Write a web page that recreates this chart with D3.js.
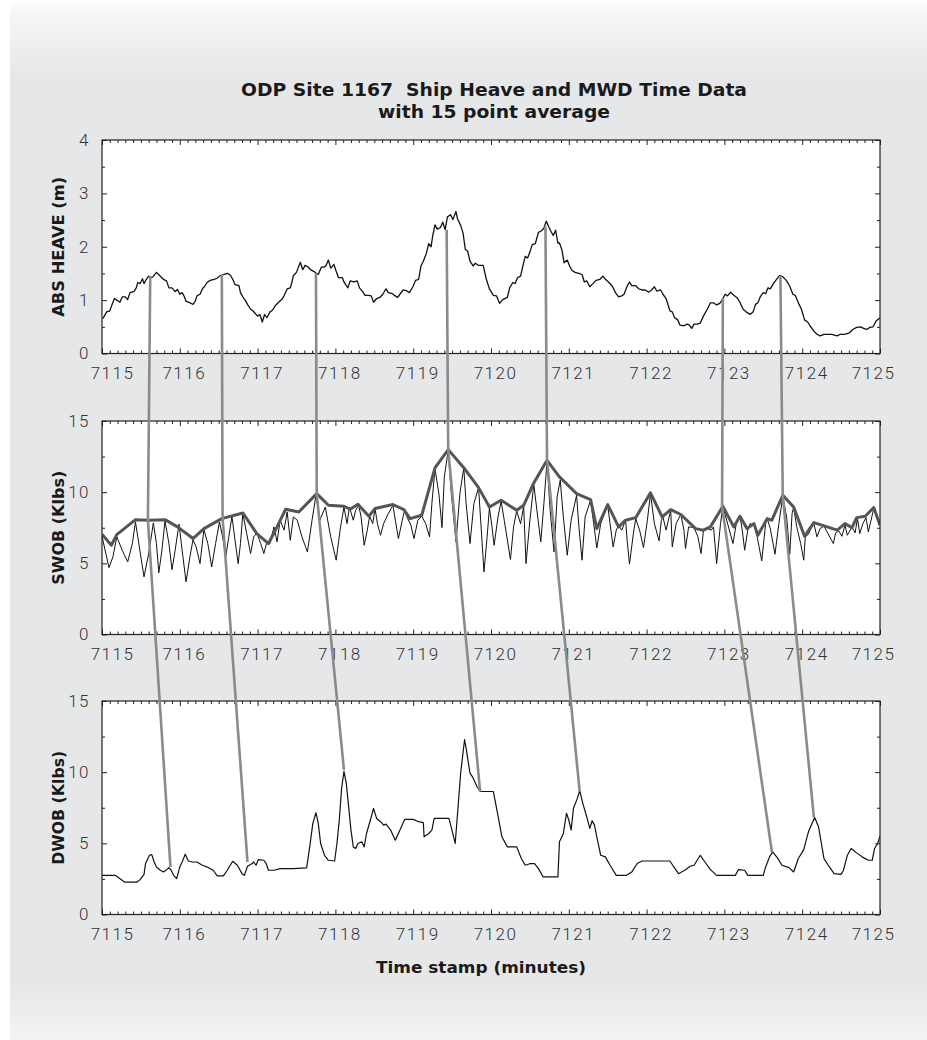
<!DOCTYPE html>
<html>
<head>
<meta charset="utf-8">
<script src="https://cdn.jsdelivr.net/npm/d3@7"></script>
<style>
  html, body { margin: 0; padding: 0; background: #fff; }
  svg { display: block; }
</style>
</head>
<body>
<svg id="chart" width="927" height="1040"></svg>
<script>
// ---------- data: time stamps (minutes) and values ----------
const timeTicks = [7115, 7116, 7117, 7118, 7119, 7120, 7121, 7122, 7123, 7124, 7125];

// ship heave, absolute (m)
const heaveTime = [7115.01,7115.06,7115.10,7115.13,7115.16,7115.19,7115.23,7115.26,7115.30,7115.33,7115.36,7115.41,7115.44,7115.46,7115.49,7115.52,7115.54,7115.57,7115.60,7115.62,7115.65,7115.70,7115.74,7115.79,7115.83,7115.86,7115.90,7115.94,7115.97,7116.00,7116.03,7116.06,7116.08,7116.13,7116.17,7116.20,7116.22,7116.26,7116.29,7116.32,7116.35,7116.39,7116.44,7116.48,7116.51,7116.56,7116.61,7116.65,7116.68,7116.71,7116.76,7116.78,7116.81,7116.84,7116.87,7116.91,7116.94,7116.97,7117.00,7117.03,7117.06,7117.09,7117.12,7117.16,7117.19,7117.23,7117.27,7117.31,7117.34,7117.38,7117.42,7117.44,7117.46,7117.50,7117.52,7117.55,7117.58,7117.61,7117.65,7117.68,7117.72,7117.76,7117.78,7117.82,7117.86,7117.88,7117.91,7117.94,7117.98,7118.01,7118.04,7118.09,7118.11,7118.16,7118.19,7118.24,7118.28,7118.31,7118.35,7118.38,7118.43,7118.46,7118.49,7118.53,7118.57,7118.61,7118.65,7118.68,7118.73,7118.77,7118.80,7118.83,7118.87,7118.91,7118.95,7119.00,7119.03,7119.07,7119.10,7119.13,7119.17,7119.20,7119.23,7119.25,7119.28,7119.31,7119.35,7119.38,7119.41,7119.44,7119.48,7119.51,7119.55,7119.57,7119.61,7119.64,7119.67,7119.70,7119.73,7119.77,7119.80,7119.84,7119.90,7119.94,7119.98,7120.03,7120.07,7120.11,7120.15,7120.21,7120.24,7120.28,7120.31,7120.34,7120.38,7120.41,7120.44,7120.47,7120.50,7120.53,7120.57,7120.61,7120.65,7120.68,7120.71,7120.74,7120.77,7120.80,7120.83,7120.86,7120.88,7120.91,7120.94,7120.98,7121.01,7121.04,7121.08,7121.13,7121.17,7121.20,7121.23,7121.27,7121.31,7121.35,7121.40,7121.44,7121.47,7121.51,7121.56,7121.60,7121.64,7121.68,7121.71,7121.75,7121.78,7121.81,7121.86,7121.90,7121.94,7121.98,7122.03,7122.07,7122.10,7122.13,7122.18,7122.21,7122.25,7122.30,7122.33,7122.36,7122.40,7122.43,7122.48,7122.52,7122.55,7122.58,7122.61,7122.65,7122.69,7122.73,7122.78,7122.82,7122.86,7122.90,7122.94,7122.97,7123.01,7123.04,7123.08,7123.12,7123.16,7123.20,7123.24,7123.28,7123.33,7123.37,7123.40,7123.43,7123.46,7123.50,7123.53,7123.56,7123.59,7123.63,7123.67,7123.71,7123.75,7123.80,7123.84,7123.88,7123.91,7123.96,7123.99,7124.03,7124.07,7124.10,7124.15,7124.19,7124.23,7124.28,7124.33,7124.38,7124.45,7124.49,7124.54,7124.60,7124.65,7124.70,7124.75,7124.79,7124.83,7124.87,7124.91,7124.95,7125.00];
const heaveValue = [0.65,0.78,0.80,0.92,1.03,1.00,0.96,1.06,1.06,1.01,1.14,1.16,1.23,1.33,1.31,1.40,1.31,1.39,1.45,1.42,1.43,1.52,1.46,1.39,1.36,1.23,1.23,1.16,1.20,1.11,1.14,1.06,0.98,0.95,0.92,0.98,1.08,1.11,1.21,1.26,1.33,1.37,1.39,1.41,1.45,1.48,1.50,1.47,1.39,1.29,1.27,1.14,1.06,1.00,0.92,0.83,0.80,0.75,0.70,0.73,0.59,0.73,0.67,0.78,0.81,0.90,0.96,1.01,1.08,1.21,1.23,1.33,1.46,1.52,1.60,1.71,1.57,1.65,1.62,1.57,1.54,1.50,1.48,1.62,1.62,1.65,1.75,1.60,1.67,1.54,1.42,1.42,1.34,1.23,1.36,1.34,1.36,1.23,1.16,1.09,1.09,1.08,0.96,1.03,1.05,1.11,1.21,1.14,1.12,1.08,1.05,1.11,1.19,1.18,1.14,1.26,1.37,1.39,1.64,1.73,1.88,2.06,2.00,2.20,2.41,2.33,2.36,2.46,2.32,2.56,2.60,2.51,2.66,2.52,2.40,2.26,1.95,1.92,1.73,1.64,1.69,1.65,1.65,1.39,1.21,1.09,1.08,0.94,1.01,1.05,1.23,1.33,1.31,1.42,1.45,1.64,1.82,1.79,1.90,2.04,2.06,2.27,2.30,2.35,2.48,2.38,2.29,2.21,2.31,2.07,2.07,1.95,1.70,1.75,1.64,1.56,1.52,1.50,1.48,1.34,1.36,1.25,1.31,1.37,1.39,1.45,1.39,1.34,1.26,1.14,1.06,1.08,1.11,1.26,1.34,1.27,1.27,1.21,1.19,1.19,1.15,1.20,1.25,1.17,1.19,1.11,1.03,0.80,0.78,0.67,0.63,0.53,0.52,0.55,0.53,0.47,0.55,0.55,0.57,0.70,0.83,0.95,0.95,0.91,0.94,1.00,1.11,1.08,1.15,1.09,1.05,0.96,0.83,0.78,0.73,0.78,0.92,0.95,1.06,1.14,1.12,1.23,1.21,1.31,1.39,1.46,1.44,1.36,1.26,1.11,1.09,0.92,0.83,0.63,0.59,0.52,0.42,0.36,0.33,0.36,0.36,0.36,0.33,0.36,0.36,0.38,0.45,0.49,0.50,0.47,0.45,0.49,0.50,0.61,0.67];

// surface weight on bit, raw trace (Klbs)
const swobTime = [7115.00,7115.09,7115.14,7115.19,7115.26,7115.33,7115.39,7115.43,7115.48,7115.54,7115.60,7115.66,7115.70,7115.73,7115.77,7115.81,7115.86,7115.90,7115.94,7115.99,7116.03,7116.08,7116.13,7116.17,7116.21,7116.26,7116.31,7116.36,7116.41,7116.46,7116.51,7116.55,7116.59,7116.63,7116.67,7116.71,7116.75,7116.78,7116.81,7116.86,7116.91,7116.95,7116.99,7117.04,7117.08,7117.12,7117.16,7117.21,7117.25,7117.29,7117.34,7117.38,7117.42,7117.46,7117.51,7117.57,7117.64,7117.70,7117.75,7117.80,7117.87,7117.94,7118.01,7118.06,7118.11,7118.15,7118.18,7118.23,7118.26,7118.30,7118.33,7118.37,7118.41,7118.44,7118.48,7118.51,7118.54,7118.58,7118.62,7118.68,7118.74,7118.77,7118.81,7118.86,7118.89,7118.92,7118.97,7119.01,7119.06,7119.11,7119.16,7119.21,7119.24,7119.28,7119.33,7119.37,7119.40,7119.45,7119.49,7119.55,7119.60,7119.65,7119.68,7119.73,7119.78,7119.84,7119.91,7119.95,7119.98,7120.01,7120.04,7120.09,7120.13,7120.17,7120.25,7120.29,7120.33,7120.38,7120.42,7120.45,7120.50,7120.55,7120.59,7120.64,7120.68,7120.72,7120.76,7120.81,7120.85,7120.89,7120.93,7120.98,7121.03,7121.10,7121.13,7121.17,7121.21,7121.28,7121.32,7121.36,7121.41,7121.50,7121.53,7121.57,7121.61,7121.64,7121.68,7121.73,7121.75,7121.78,7121.83,7121.86,7121.91,7121.96,7122.01,7122.05,7122.10,7122.16,7122.19,7122.21,7122.25,7122.31,7122.33,7122.38,7122.44,7122.48,7122.50,7122.54,7122.61,7122.66,7122.70,7122.73,7122.79,7122.83,7122.86,7122.90,7122.95,7122.98,7123.03,7123.11,7123.16,7123.20,7123.23,7123.26,7123.30,7123.33,7123.38,7123.42,7123.48,7123.53,7123.55,7123.59,7123.65,7123.70,7123.75,7123.80,7123.84,7123.87,7123.89,7123.93,7123.98,7124.02,7124.04,7124.08,7124.13,7124.15,7124.19,7124.23,7124.28,7124.32,7124.40,7124.43,7124.47,7124.51,7124.55,7124.58,7124.64,7124.68,7124.71,7124.74,7124.78,7124.82,7124.85,7124.92,7124.96,7125.00];
const swobValue = [6.90,4.70,5.45,6.86,5.92,5.10,6.39,7.91,6.15,4.05,5.69,7.84,6.39,4.33,5.92,7.98,6.39,4.56,5.92,7.75,5.92,3.70,5.45,6.67,6.15,4.98,7.37,6.39,4.75,6.39,7.91,6.86,5.45,6.86,8.31,6.62,4.98,6.39,8.50,7.09,5.69,6.86,7.14,6.39,5.69,6.51,6.39,7.56,6.51,8.03,7.33,8.61,6.62,8.26,8.03,6.86,5.80,8.03,9.78,8.03,8.96,6.86,5.22,7.33,8.96,7.79,8.96,8.03,8.73,9.08,8.26,6.27,7.33,8.31,7.79,8.85,7.79,6.97,7.79,8.50,9.08,8.03,6.74,8.03,8.73,8.26,7.68,6.74,8.03,8.31,7.79,6.86,9.20,11.65,9.90,7.51,11.07,12.94,9.90,6.51,9.90,11.72,9.20,6.39,9.20,10.32,4.40,6.86,8.92,7.68,6.27,8.26,9.38,8.03,5.27,7.56,8.68,7.79,9.01,4.98,8.03,10.55,8.73,6.51,9.20,12.19,8.73,5.80,9.67,10.84,8.26,5.57,8.03,9.78,7.56,5.22,8.26,9.43,7.79,6.08,7.79,9.08,7.79,6.15,7.33,7.68,7.33,8.03,6.62,4.94,7.09,8.14,7.33,6.11,8.03,9.90,7.79,6.58,8.03,8.26,7.33,8.73,6.15,7.79,8.45,7.33,6.04,7.56,7.51,6.86,5.69,7.28,7.44,7.33,7.56,4.98,7.79,8.96,8.03,6.39,8.03,8.31,7.33,5.92,7.33,7.79,7.68,6.90,5.17,7.79,8.14,7.44,5.64,7.79,9.71,8.26,5.64,8.50,8.92,7.56,6.39,5.22,6.86,7.04,7.68,7.79,6.86,7.44,7.61,7.21,6.39,7.14,7.28,6.90,7.68,6.97,7.56,7.14,8.14,7.09,7.79,8.21,7.21,8.85,8.26,7.68];

// 15 point average of the surface weight on bit (Klbs)
const swobAvgTime = [7115.00,7115.12,7115.19,7115.43,7115.61,7115.81,7115.97,7116.17,7116.31,7116.54,7116.81,7116.99,7117.14,7117.25,7117.36,7117.53,7117.76,7117.91,7118.11,7118.19,7118.29,7118.43,7118.51,7118.74,7118.88,7118.96,7119.11,7119.28,7119.45,7119.65,7119.84,7119.98,7120.13,7120.33,7120.42,7120.55,7120.72,7120.88,7121.10,7121.28,7121.36,7121.50,7121.64,7121.73,7121.86,7122.05,7122.20,7122.31,7122.44,7122.63,7122.73,7122.82,7122.98,7123.12,7123.20,7123.29,7123.38,7123.43,7123.55,7123.61,7123.75,7123.89,7124.03,7124.15,7124.28,7124.45,7124.55,7124.64,7124.70,7124.81,7124.92,7125.00];
const swobAvgValue = [7.04,6.27,7.02,8.07,8.03,8.07,7.56,6.74,7.44,8.14,8.54,7.09,6.39,7.56,8.80,8.61,9.90,9.08,9.01,8.80,9.15,8.31,8.85,9.13,8.78,8.14,8.38,11.70,12.99,11.72,10.32,8.96,9.43,8.73,9.08,10.65,12.24,11.07,9.90,9.48,7.44,9.13,7.56,8.03,8.21,9.95,8.26,8.78,8.43,7.44,7.33,7.56,9.01,7.56,8.31,7.44,7.79,6.97,8.14,8.03,9.78,8.96,6.90,7.86,7.63,7.33,7.79,7.51,8.21,8.31,8.92,7.68];

// downhole weight on bit from the MWD tool (Klbs)
const dwobTime = [7115.00,7115.17,7115.29,7115.45,7115.49,7115.54,7115.56,7115.59,7115.61,7115.64,7115.67,7115.70,7115.75,7115.79,7115.83,7115.86,7115.89,7115.92,7115.96,7116.00,7116.03,7116.07,7116.11,7116.16,7116.22,7116.29,7116.37,7116.43,7116.48,7116.56,7116.61,7116.68,7116.74,7116.80,7116.83,7116.87,7116.93,7116.95,7116.98,7117.01,7117.08,7117.11,7117.14,7117.21,7117.29,7117.46,7117.63,7117.67,7117.71,7117.75,7117.78,7117.81,7117.86,7117.91,7117.99,7118.02,7118.05,7118.08,7118.11,7118.14,7118.17,7118.20,7118.23,7118.26,7118.29,7118.34,7118.37,7118.40,7118.45,7118.49,7118.53,7118.58,7118.62,7118.65,7118.71,7118.77,7118.83,7118.89,7119.00,7119.07,7119.13,7119.14,7119.20,7119.24,7119.27,7119.37,7119.46,7119.54,7119.58,7119.61,7119.66,7119.68,7119.73,7119.76,7119.82,7119.86,7120.03,7120.08,7120.14,7120.21,7120.27,7120.33,7120.39,7120.44,7120.51,7120.56,7120.61,7120.67,7120.86,7120.88,7120.93,7120.97,7121.00,7121.03,7121.06,7121.11,7121.14,7121.18,7121.23,7121.27,7121.30,7121.33,7121.36,7121.41,7121.47,7121.53,7121.61,7121.74,7121.81,7121.88,7121.94,7122.08,7122.30,7122.35,7122.41,7122.50,7122.56,7122.61,7122.69,7122.75,7122.82,7122.90,7123.14,7123.18,7123.26,7123.30,7123.50,7123.53,7123.58,7123.62,7123.68,7123.74,7123.83,7123.89,7123.95,7124.02,7124.08,7124.16,7124.21,7124.28,7124.35,7124.41,7124.50,7124.53,7124.58,7124.63,7124.70,7124.77,7124.85,7124.90,7124.93,7124.97,7125.00];
const dwobValue = [2.75,2.75,2.28,2.28,2.45,2.82,3.58,3.93,4.16,4.21,3.69,3.34,3.11,2.99,3.15,3.29,3.11,2.75,2.52,3.34,3.69,4.24,3.76,3.69,3.69,3.46,3.29,3.11,2.71,2.71,3.11,3.74,3.46,2.87,2.75,3.39,3.58,3.69,3.46,3.86,3.81,3.58,3.11,3.11,3.22,3.22,3.27,4.75,6.40,7.15,6.40,4.99,4.16,3.81,3.76,4.99,6.64,8.87,10.05,9.22,7.58,5.93,4.75,4.64,4.99,5.11,4.75,5.69,6.64,7.46,6.75,6.52,6.28,6.35,5.93,5.22,5.93,6.68,6.68,6.52,6.45,5.46,5.69,5.93,6.75,6.75,6.75,4.99,7.81,9.93,12.28,11.69,9.93,9.69,8.99,8.64,8.64,7.22,5.46,4.75,4.75,4.75,3.93,3.46,3.58,3.58,3.22,2.64,2.64,5.11,5.69,7.11,6.64,5.93,7.46,8.16,8.71,7.81,6.87,6.05,6.59,6.28,5.46,4.16,4.05,3.46,2.75,2.75,2.99,3.58,3.76,3.76,3.76,3.34,2.87,3.15,3.39,3.46,4.16,3.69,3.15,2.75,2.75,3.15,3.11,2.75,2.75,3.34,4.05,4.40,4.00,3.46,3.29,2.99,3.93,4.56,5.81,6.82,6.16,3.93,3.34,2.87,2.82,3.11,4.16,4.64,4.33,4.05,3.81,3.81,4.64,4.99,5.51];

// matched events: heave peak -> SWOB average -> delayed DWOB response
const linkHeaveTime = [7115.62, 7116.54, 7117.75, 7119.43, 7120.70, 7122.98, 7123.72];
const linkHeaveValue = [1.45, 1.48, 1.51, 2.32, 2.38, 1.04, 1.45];
const linkSwobTime = [7115.59, 7116.55, 7117.76, 7119.45, 7120.72, 7122.97, 7123.75];
const linkSwobValue = [8.03, 8.20, 9.90, 12.99, 12.24, 9.00, 9.78];
const linkDwobTime = [7115.88, 7116.87, 7118.11, 7119.86, 7121.14, 7123.61, 7124.15];
const linkDwobValue = [3.34, 3.69, 10.16, 8.64, 8.64, 4.40, 6.82];

const heaveTicks = [0, 1, 2, 3, 4];
const wobTicks = [0, 5, 10, 15];

// ---------- layout ----------
const W = 927, H = 1040;
const plotLeft = 102, plotRight = 880, plotH = 213.5;
const tickFont = "'Roboto', 'Liberation Sans', sans-serif";
const boldFont = "'Liberation Sans Narrow', 'DejaVu Sans Condensed', 'Liberation Sans', sans-serif";

const svg = d3.select('#chart');

// page backdrop: grey card with soft fade at top and bottom
const defs = svg.append('defs');
const grad = defs.append('linearGradient').attr('id', 'cardFade')
  .attr('x1', 0).attr('y1', 0).attr('x2', 0).attr('y2', 1);
[[0, '#ffffff'], [0.012, '#f6f6f7'], [0.075, '#e6e7e9'], [0.945, '#e6e7e9'], [1, '#f3f3f4']]
  .forEach(([o, c]) => grad.append('stop').attr('offset', o).attr('stop-color', c));
svg.append('rect').attr('width', W).attr('height', H).attr('fill', '#ffffff');
svg.append('rect').attr('x', 10).attr('y', 0).attr('width', W - 10).attr('height', H).attr('fill', 'url(#cardFade)');

const x = d3.scaleLinear().domain([7115, 7125]).range([plotLeft, plotRight]);
const minorX = d3.range(71150, 71251, 1).map(v => v / 10).filter(v => !timeTicks.includes(v));

const panels = [
  { top: 140, max: 4, ticks: heaveTicks, minorStep: 0.5, label: 'ABS HEAVE (m)', labelLen: 140 },
  { top: 421, max: 15, ticks: wobTicks, minorStep: 2.5, label: 'SWOB (Klbs)', labelLen: 114 },
  { top: 701, max: 15, ticks: wobTicks, minorStep: 2.5, label: 'DWOB (Klbs)', labelLen: 114 }
];
panels.forEach(p => {
  p.y = d3.scaleLinear().domain([0, p.max]).range([p.top + plotH, p.top]);
  p.minor = d3.range(0, p.max + 0.001, p.minorStep).filter(v => !p.ticks.includes(v));
});

// title (non-breaking space keeps the double gap after the site number)
const title = svg.append('g').attr('font-family', boldFont).attr('font-weight', 'bold')
  .attr('font-size', 18).attr('fill', '#1a1a1a').attr('text-anchor', 'middle');
title.append('text').attr('x', 494).attr('y', 96)
  .attr('textLength', 506).attr('lengthAdjust', 'spacingAndGlyphs')
  .text('ODP Site 1167\u00A0 Ship Heave and MWD Time Data');
title.append('text').attr('x', 494).attr('y', 118)
  .attr('textLength', 232).attr('lengthAdjust', 'spacingAndGlyphs')
  .text('with 15 point average');

const clipId = i => 'plotClip' + i;

panels.forEach((p, i) => {
  const g = svg.append('g');
  defs.append('clipPath').attr('id', clipId(i)).append('rect')
    .attr('x', plotLeft).attr('y', p.top).attr('width', plotRight - plotLeft).attr('height', plotH);

  g.append('rect').attr('x', plotLeft).attr('y', p.top)
    .attr('width', plotRight - plotLeft).attr('height', plotH).attr('fill', '#ffffff');

  const data = g.append('g').attr('clip-path', `url(#${clipId(i)})`);
  const line = d3.line().x(d => x(d[0])).y(d => p.y(d[1]));
  if (i === 0) {
    data.append('path').datum(d3.zip(heaveTime, heaveValue)).attr('d', line)
      .attr('fill', 'none').attr('stroke', '#111').attr('stroke-width', 1.3).attr('stroke-linejoin', 'round');
  } else if (i === 1) {
    data.append('path').datum(d3.zip(swobTime, swobValue)).attr('d', line)
      .attr('fill', 'none').attr('stroke', '#111').attr('stroke-width', 1).attr('stroke-linejoin', 'round');
    data.append('path').datum(d3.zip(swobAvgTime, swobAvgValue)).attr('d', line)
      .attr('fill', 'none').attr('stroke', '#555').attr('stroke-width', 3).attr('stroke-linejoin', 'round');
  } else {
    data.append('path').datum(d3.zip(dwobTime, dwobValue)).attr('d', line)
      .attr('fill', 'none').attr('stroke', '#111').attr('stroke-width', 1.2).attr('stroke-linejoin', 'round');
  }

  // axes: ticks point inward on all four sides
  const bottom = p.top + plotH;
  const axB = g.append('g').attr('transform', `translate(0,${bottom})`)
    .call(d3.axisBottom(x).tickValues(timeTicks).tickSizeInner(-5).tickSizeOuter(0).tickPadding(13)
      .tickFormat(d3.format('d')));
  axB.selectAll('text').attr('dx', d => d === 7115 ? 10 : d === 7125 ? -7 : 4);
  g.append('g').attr('transform', `translate(0,${bottom})`)
    .call(d3.axisBottom(x).tickValues(minorX).tickSize(-3).tickFormat(''));
  g.append('g').attr('transform', `translate(0,${p.top})`)
    .call(d3.axisTop(x).tickValues(timeTicks).tickSize(-5).tickFormat(''));
  g.append('g').attr('transform', `translate(0,${p.top})`)
    .call(d3.axisTop(x).tickValues(minorX).tickSize(-3).tickFormat(''));

  g.append('g').attr('transform', `translate(${plotLeft},0)`)
    .call(d3.axisLeft(p.y).tickValues(p.ticks).tickSizeInner(-5).tickSizeOuter(0).tickPadding(12)
      .tickFormat(d3.format('d')));
  g.append('g').attr('transform', `translate(${plotLeft},0)`)
    .call(d3.axisLeft(p.y).tickValues(p.minor).tickSize(-3).tickFormat(''));
  g.append('g').attr('transform', `translate(${plotRight},0)`)
    .call(d3.axisRight(p.y).tickValues(p.ticks).tickSize(-5).tickFormat(''));
  g.append('g').attr('transform', `translate(${plotRight},0)`)
    .call(d3.axisRight(p.y).tickValues(p.minor).tickSize(-3).tickFormat(''));

  g.selectAll('.domain').remove();
  g.selectAll('.tick line').attr('stroke', '#222').attr('stroke-width', 1);
  g.selectAll('.tick text').attr('font-family', tickFont).attr('font-weight', 300)
    .attr('font-size', 17).attr('fill', '#333').style('letter-spacing', '1.5px');

  g.append('rect').attr('x', plotLeft).attr('y', p.top)
    .attr('width', plotRight - plotLeft).attr('height', plotH)
    .attr('fill', 'none').attr('stroke', '#222').attr('stroke-width', 1.2);

  g.append('text')
    .attr('transform', `translate(64,${p.top + plotH / 2}) rotate(-90)`)
    .attr('text-anchor', 'middle')
    .attr('font-family', boldFont).attr('font-weight', 'bold').attr('font-size', 15).attr('fill', '#1a1a1a')
    .attr('textLength', p.labelLen).attr('lengthAdjust', 'spacingAndGlyphs')
    .text(p.label);
});

// x-axis title
svg.append('text').attr('x', 481).attr('y', 973).attr('text-anchor', 'middle')
  .attr('font-family', boldFont).attr('font-weight', 'bold').attr('font-size', 15).attr('fill', '#1a1a1a')
  .attr('textLength', 210).attr('lengthAdjust', 'spacingAndGlyphs')
  .text('Time stamp (minutes)');

// connectors tracing each heave event through SWOB into DWOB
const [pH, pS, pD] = panels;
const links = d3.range(linkHeaveTime.length).map(k => [
  [x(linkHeaveTime[k]), pH.y(linkHeaveValue[k])],
  [x(linkSwobTime[k]), pS.y(linkSwobValue[k])],
  [x(linkDwobTime[k]), pD.y(linkDwobValue[k])]
]);
svg.append('g').selectAll('path').data(links).join('path')
  .attr('d', d3.line())
  .attr('fill', 'none').attr('stroke', '#8a8a8a').attr('stroke-width', 2.6).attr('stroke-linejoin', 'round');
</script>
</body>
</html>
